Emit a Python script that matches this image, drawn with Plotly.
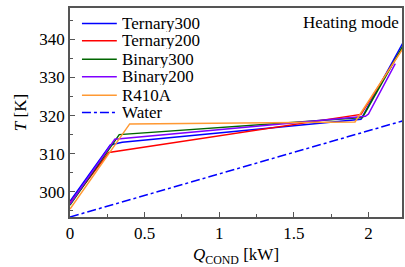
import plotly.graph_objects as go

names = ["Ternary300", "Ternary200", "Binary300", "Binary200", "R410A"]
colors = ["#0000FF", "#FF0000", "#006600", "#7F00FF", "#FF9933"]
t300_q = [0, 0.27, 0.35, 1.95, 2.23]
t300_T = [297.5, 312.3, 313.0, 319.0, 339.0]
t200_q = [0, 0.26, 1.95, 2.23]
t200_T = [297.0, 310.3, 320.3, 337.8]
b300_q = [0, 0.33, 1.96, 2.23]
b300_T = [296.5, 315.0, 319.5, 338.2]
b200_q = [0, 0.30, 1.98, 2.0, 2.18]
b200_T = [296.8, 313.8, 319.8, 320.4, 333.6]
r410_q = [0, 0.40, 1.91, 2.23]
r410_T = [295.5, 317.8, 318.3, 337.5]
water_q = [0, 2.23]
water_T = [293.4, 318.6]

series = [(t300_q, t300_T), (t200_q, t200_T), (b300_q, b300_T), (b200_q, b200_T), (r410_q, r410_T)]

fig = go.Figure()
for (q, T), n, c in zip(series, names, colors):
    fig.add_trace(go.Scatter(x=q, y=T, mode="lines", name=n, line=dict(color=c, width=1.5)))
fig.add_trace(go.Scatter(x=water_q, y=water_T, mode="lines", name="Water",
                         line=dict(color="#0000FF", width=1.5, dash="dashdot")))

SERIF = "Liberation Serif"
font = dict(family=SERIF, size=17, color="black")
axis_common = dict(showline=True, linecolor="#555555", linewidth=1.5, mirror=True,
                   ticks="inside", ticklen=5, tickcolor="#555555", showgrid=False,
                   zeroline=False, tickfont=font)

# custom compact legend (paper coordinates)
leg_names = names + ["Water"]
leg_colors = colors + ["#0000FF"]
leg_dash = ["solid"] * 5 + ["dashdot"]
leg_y = [0.926, 0.843, 0.755, 0.671, 0.583, 0.500]
shapes = []
annotations = []
for n, c, d, yy in zip(leg_names, leg_colors, leg_dash, leg_y):
    shapes.append(dict(type="line", xref="paper", yref="paper", x0=0.036, x1=0.141, y0=yy, y1=yy,
                       line=dict(color=c, width=1.5, dash=d)))
    annotations.append(dict(text=n, x=0.153, y=yy, xref="paper", yref="paper", xanchor="left",
                            yanchor="middle", showarrow=False, height=17, borderpad=0, valign="middle",
                            font=dict(family=SERIF, size=17, color="black")))
annotations.append(dict(text="Heating mode", x=0.998, y=0.985, xref="paper", yref="paper",
                        xanchor="right", yanchor="top", showarrow=False,
                        font=dict(family=SERIF, size=17, color="black")))

fig.update_layout(
    width=405, height=267,
    margin=dict(l=70, r=1, t=8, b=43),
    paper_bgcolor="white", plot_bgcolor="white",
    font=font,
    showlegend=False,
    xaxis=dict(range=[0, 2.225], tickvals=[0, 0.5, 1, 1.5, 2], ticktext=["0", "0.5", "1", "1.5", "2"],
               minor=dict(ticks="inside", ticklen=3, dtick=0.25, tickcolor="#555555"),
               title=dict(text="<i>Q</i><sub>COND</sub> [kW]", font=font, standoff=11),
               **axis_common),
    yaxis=dict(range=[293.4, 348.2], tickvals=[300, 310, 320, 330, 340],
               minor=dict(ticks="inside", ticklen=3, dtick=5, tickcolor="#555555"),
               title=dict(text="<i>T</i> [K]", font=font, standoff=8),
               **axis_common),
    shapes=shapes,
    annotations=annotations,
)
fig.write_html("out.html", config={"displayModeBar": False},
               post_script="document.body.style.margin='0px';document.body.style.overflow='hidden';")
